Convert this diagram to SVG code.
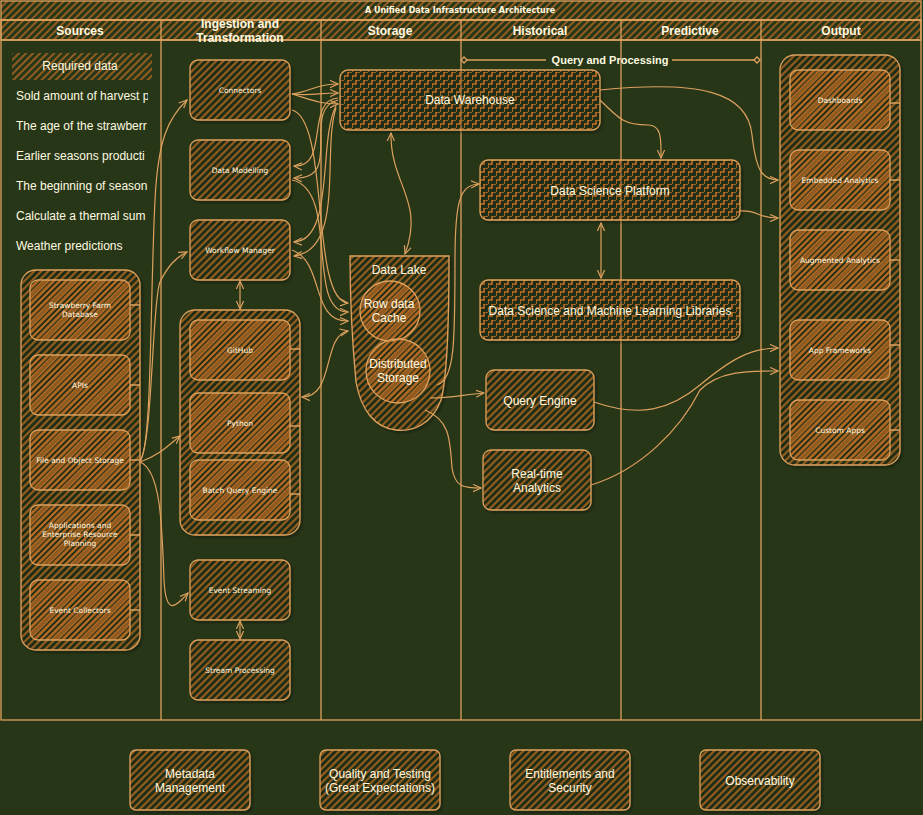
<svg xmlns="http://www.w3.org/2000/svg" width="923" height="815" viewBox="0 0 923 815">
<defs>
<pattern id="hatch" width="5" height="5" patternUnits="userSpaceOnUse" patternTransform="rotate(45)"><line x1="1" y1="0" x2="1" y2="5" stroke="#BC6C25" stroke-width="1.4"/></pattern>
<pattern id="cross" width="4" height="4" patternUnits="userSpaceOnUse" patternTransform="rotate(45)"><line x1="1" y1="0" x2="1" y2="4" stroke="#BC6C25" stroke-width="1.7"/><line x1="0" y1="2.5" x2="4" y2="2.5" stroke="#BC6C25" stroke-width="1" stroke-dasharray="1.5 2.5"/></pattern>
<pattern id="zig" width="8" height="8" patternUnits="userSpaceOnUse"><path d="M0,8 V4 H4 V0 H8" fill="none" stroke="#BC6C25" stroke-width="1.6"/></pattern>
<filter id="sh" x="-10%" y="-10%" width="130%" height="130%"><feDropShadow dx="2" dy="2" stdDeviation="1" flood-color="#000" flood-opacity="0.45"/></filter>
<marker id="ar" viewBox="0 0 10 10" refX="9" refY="5" markerWidth="9" markerHeight="9" markerUnits="userSpaceOnUse" orient="auto-start-reverse"><path d="M0,1 L9,5 L0,9" fill="none" stroke="#DDA15E" stroke-width="1.3"/></marker>
<clipPath id="srcclip"><rect x="0" y="80" width="148" height="180"/></clipPath>
</defs>
<style>
.bg{fill:#283618}
.ln{fill:none;stroke:#DDA15E;stroke-width:1.3}
.hb{fill:url(#hatch);stroke:#DDA15E;stroke-width:1.3}
.cb{fill:url(#cross);stroke:#DDA15E;stroke-width:1.3}
.zb{fill:url(#zig);stroke:#DDA15E;stroke-width:1.3}
.hd{font-family:"Liberation Sans",Arial,sans-serif;font-weight:bold;font-size:12px;fill:#FEFAE0;text-anchor:middle}
.sm{font-family:"DejaVu Sans",Verdana,sans-serif;font-size:7.5px;fill:#FEFAE0;text-anchor:middle}
.md{font-family:"Liberation Sans",Arial,sans-serif;font-size:12px;fill:#FEFAE0;text-anchor:middle}
.lt{font-family:"Liberation Sans",Arial,sans-serif;font-size:12px;fill:#FEFAE0}
.nr{font-family:"Liberation Sans Narrow","Liberation Sans",Arial,sans-serif;font-size:12px;fill:#FEFAE0;text-anchor:middle}
.cn{fill:none;stroke:#DDA15E;stroke-width:1.2}
</style>
<rect class="bg" x="0" y="0" width="923" height="815"/>

<g id="frame">
<rect class="hb" x="1" y="1" width="920" height="19"/>
<text x="460" y="13" style="font-family:'DejaVu Sans',Verdana,sans-serif;font-weight:bold;font-size:8px;fill:#FEFAE0;text-anchor:middle">A Unified Data Infrastructure Architecture</text>
<rect class="hb" x="1" y="20" width="920" height="20"/>
<rect class="ln" x="1" y="20" width="920" height="700"/>
<line class="ln" x1="161" y1="20" x2="161" y2="720"/>
<line class="ln" x1="321" y1="20" x2="321" y2="720"/>
<line class="ln" x1="461" y1="20" x2="461" y2="720"/>
<line class="ln" x1="621" y1="20" x2="621" y2="720"/>
<line class="ln" x1="761" y1="20" x2="761" y2="720"/>
<line class="ln" x1="1" y1="40" x2="921" y2="40"/>
<text class="hd" x="80" y="35">Sources</text>
<text class="hd" x="240" y="28">Ingestion and</text>
<text class="hd" x="240" y="42">Transformation</text>
<text class="hd" x="390" y="35">Storage</text>
<text class="hd" x="540" y="35">Historical</text>
<text class="hd" x="690" y="35">Predictive</text>
<text class="hd" x="841" y="35">Output</text>
</g>

<g id="required-data">
<rect x="12" y="53" width="140" height="27" fill="url(#hatch)"/>
<text class="md" x="80" y="70">Required data</text>
<g clip-path="url(#srcclip)">
<text class="lt" x="16" y="100">Sold amount of harvest p</text>
<text class="lt" x="16" y="130">The age of the strawberr</text>
<text class="lt" x="16" y="160">Earlier seasons producti</text>
<text class="lt" x="16" y="190">The beginning of season</text>
<text class="lt" x="16" y="220">Calculate a thermal sum</text>
<text class="lt" x="16" y="250">Weather predictions</text>
</g>
</g>

<g id="sources-group">
<rect class="hb" x="21" y="270" width="119" height="380" rx="15" filter="url(#sh)"/>
<g id="src-db"><rect class="cb" x="30" y="280" width="100" height="60" rx="8"/><text class="sm" x="80" y="308">Strawberry Farm</text><text class="sm" x="80" y="317">Database</text></g>
<g id="src-apis"><rect class="cb" x="30" y="355" width="100" height="60" rx="8"/><text class="sm" x="80" y="388">APIs</text></g>
<g id="src-files"><rect class="cb" x="30" y="430" width="100" height="60" rx="8"/><text class="sm" x="80" y="463">File and Object Storage</text></g>
<g id="src-erp"><rect class="cb" x="30" y="505" width="100" height="60" rx="8"/><text class="sm" x="80" y="528">Applications and</text><text class="sm" x="80" y="537">Enterprise Resource</text><text class="sm" x="80" y="546">Planning</text></g>
<g id="src-events"><rect class="cb" x="30" y="580" width="100" height="60" rx="8"/><text class="sm" x="80" y="613">Event Collectors</text></g>
<path class="ln" d="M130,305 H140 M130,385 H140 M130,460 H140 M130,535 H140 M130,610 H140"/>
</g>

<g id="connectors-node"><rect class="hb" x="190" y="60" width="100" height="60" rx="8" filter="url(#sh)"/><text class="sm" x="240" y="93">Connectors</text></g>
<g id="data-modelling"><rect class="hb" x="190" y="140" width="100" height="60" rx="8" filter="url(#sh)"/><text class="sm" x="240" y="173">Data Modelling</text></g>
<g id="workflow-manager"><rect class="hb" x="190" y="220" width="100" height="60" rx="8" filter="url(#sh)"/><text class="sm" x="240" y="253">Workflow Manager</text></g>
<g id="ingest-group">
<rect class="hb" x="180" y="310" width="120" height="225" rx="15" filter="url(#sh)"/>
<g id="github"><rect class="cb" x="190" y="320" width="100" height="60" rx="8"/><text class="sm" x="240" y="353">GitHub</text></g>
<g id="python"><rect class="cb" x="190" y="393" width="100" height="60" rx="8"/><text class="sm" x="240" y="426">Python</text></g>
<g id="batch-query"><rect class="cb" x="190" y="460" width="100" height="60" rx="8"/><text class="sm" x="240" y="493">Batch Query Engine</text></g>
<path class="ln" d="M290,349 H300 M290,426 H300 M290,494 H300"/>
</g>
<g id="event-streaming"><rect class="hb" x="190" y="560" width="100" height="60" rx="8" filter="url(#sh)"/><text class="sm" x="240" y="593">Event Streaming</text></g>
<g id="stream-processing"><rect class="hb" x="190" y="640" width="100" height="60" rx="8" filter="url(#sh)"/><text class="sm" x="240" y="673">Stream Processing</text></g>

<g id="data-warehouse"><rect class="zb" x="340" y="70" width="260" height="60" rx="8" filter="url(#sh)"/><text class="md" x="470" y="104">Data Warehouse</text></g>

<g id="data-lake">
<path class="hb" d="M350,256 L449,256 C449,330 447,378 441,400 C432,424 413,432 396,430 C375,428 361,410 356,382 C352,340 350,300 350,256 Z" filter="url(#sh)"/>
<text class="md" x="399" y="274">Data Lake</text>
<circle class="cb" cx="390" cy="311" r="30"/>
<text class="md" x="389" y="308">Row data</text>
<text class="md" x="389" y="322">Cache</text>
<circle class="cb" cx="398" cy="371" r="32"/>
<text class="md" x="398" y="368">Distributed</text>
<text class="md" x="398" y="382">Storage</text>
</g>

<g id="query-processing">
<path class="ln" d="M466,60 H546 M672,60 H755"/>
<path class="ln" d="M464,57 L467,60 L464,63 L461,60 Z M757,57 L760,60 L757,63 L754,60 Z" style="fill:#283618"/>
<text x="610" y="64" style="font-family:'Liberation Sans',Arial,sans-serif;font-weight:bold;font-size:11px;fill:#FEFAE0;text-anchor:middle">Query and Processing</text>
</g>

<g id="ds-platform"><rect class="zb" x="480" y="160" width="260" height="60" rx="8" filter="url(#sh)"/><text class="md" x="610" y="195">Data Science Platform</text></g>
<g id="ds-ml-libs"><rect class="zb" x="480" y="280" width="260" height="60" rx="8" filter="url(#sh)"/><text class="md" x="610" y="315">Data Science and Machine Learning Libraries</text></g>
<g id="query-engine"><rect class="hb" x="486" y="370" width="108" height="60" rx="8" filter="url(#sh)"/><text class="md" x="540" y="405">Query Engine</text></g>
<g id="realtime"><rect class="hb" x="483" y="450" width="108" height="60" rx="8" filter="url(#sh)"/><text class="md" x="537" y="478">Real-time</text><text class="md" x="537" y="492">Analytics</text></g>

<g id="output-group">
<rect class="hb" x="780" y="55" width="120" height="410" rx="15" filter="url(#sh)"/>
<g id="dashboards"><rect class="cb" x="790" y="70" width="100" height="60" rx="8"/><text class="sm" x="840" y="103">Dashboards</text></g>
<g id="embedded"><rect class="cb" x="790" y="150" width="100" height="60" rx="8"/><text class="sm" x="840" y="183">Embedded Analytics</text></g>
<g id="augmented"><rect class="cb" x="790" y="230" width="100" height="60" rx="8"/><text class="sm" x="840" y="263">Augmented Analytics</text></g>
<g id="app-frameworks"><rect class="cb" x="790" y="320" width="100" height="60" rx="8"/><text class="sm" x="840" y="353">App Frameworks</text></g>
<g id="custom-apps"><rect class="cb" x="790" y="400" width="100" height="60" rx="8"/><text class="sm" x="840" y="433">Custom Apps</text></g>
<path class="ln" d="M890,103 H900 M890,180 H900 M890,260 H900 M890,345 H900 M890,430 H900"/>
</g>

<g id="bottom">
<g id="metadata"><rect class="hb" x="130" y="750" width="120" height="60" rx="6" filter="url(#sh)"/><text class="nr" x="190" y="778">Metadata</text><text class="nr" x="190" y="792">Management</text></g>
<g id="quality"><rect class="hb" x="320" y="750" width="120" height="60" rx="6" filter="url(#sh)"/><text class="nr" x="380" y="778">Quality and Testing</text><text class="nr" x="380" y="792">(Great Expectations)</text></g>
<g id="entitlements"><rect class="hb" x="510" y="750" width="120" height="60" rx="6" filter="url(#sh)"/><text class="nr" x="570" y="778">Entitlements and</text><text class="nr" x="570" y="792">Security</text></g>
<g id="observability"><rect class="hb" x="700" y="750" width="120" height="60" rx="6" filter="url(#sh)"/><text class="nr" x="760" y="785">Observability</text></g>
</g>

<g id="connectors">
<path class="cn" marker-end="url(#ar)" d="M140,460 C152,450 150,300 155,200 C158,140 168,118 187,100"/>
<path class="cn" marker-end="url(#ar)" d="M140,462 C153,440 152,300 160,282 C168,266 175,258 187,252"/>
<path class="cn" marker-end="url(#ar)" d="M140,462 C158,456 168,446 180,436"/>
<path class="cn" marker-end="url(#ar)" d="M140,462 C160,470 162,520 164,580 C166,618 176,606 188,593"/>
<path class="cn" marker-start="url(#ar)" marker-end="url(#ar)" d="M240,281 V309"/>
<path class="cn" marker-start="url(#ar)" marker-end="url(#ar)" d="M240,621 V639"/>
<path class="cn" marker-end="url(#ar)" d="M292,94 C310,92 315,84 338,84"/>
<path class="cn" marker-end="url(#ar)" d="M292,94 C312,96 318,93 338,93"/>
<path class="cn" marker-end="url(#ar)" d="M292,94 C312,100 320,104 338,104"/>
<path class="cn" marker-end="url(#ar)" d="M338,98 C305,100 330,168 294,166"/>
<path class="cn" marker-end="url(#ar)" d="M338,100 C300,110 345,180 294,178"/>
<path class="cn" marker-end="url(#ar)" d="M336,106 C318,140 335,240 294,242"/>
<path class="cn" marker-end="url(#ar)" d="M336,108 C322,150 345,250 294,256"/>
<path class="cn" marker-end="url(#ar)" d="M292,110 C330,120 310,300 348,303"/>
<path class="cn" marker-end="url(#ar)" d="M292,180 C340,190 305,312 348,312"/>
<path class="cn" marker-end="url(#ar)" d="M292,250 C325,262 310,322 348,321"/>
<path class="cn" marker-start="url(#ar)" marker-end="url(#ar)" d="M302,397 C335,397 322,336 348,331"/>
<path class="cn" marker-start="url(#ar)" marker-end="url(#ar)" d="M391,133 C390,185 425,200 405,254"/>
<path class="cn" marker-end="url(#ar)" d="M600,90 C700,80 748,92 752,135 C756,170 762,180 778,180"/>
<path class="cn" marker-end="url(#ar)" d="M600,100 C620,120 625,125 648,125 C662,125 661,140 661,158"/>
<path class="cn" marker-end="url(#ar)" d="M740,211 C760,210 755,218 778,218"/>
<path class="cn" marker-start="url(#ar)" marker-end="url(#ar)" d="M601,223 V278"/>
<path class="cn" marker-end="url(#ar)" d="M437,385 C455,380 455,340 455,260 C455,200 460,185 479,184"/>
<path class="cn" marker-end="url(#ar)" d="M430,398 C450,398 462,395 484,393"/>
<path class="cn" marker-end="url(#ar)" d="M425,410 C450,420 450,440 452,468 C455,488 465,488 481,488"/>
<path class="cn" marker-end="url(#ar)" d="M594,402 C640,418 670,410 700,385 C730,360 750,348 778,348"/>
<path class="cn" marker-end="url(#ar)" d="M591,485 C640,470 680,430 700,390 C720,370 750,371 778,371"/>
</g>
</svg>
